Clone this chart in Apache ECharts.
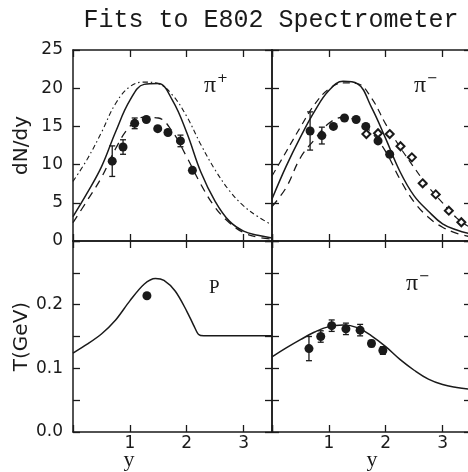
<!DOCTYPE html>
<html><head><meta charset="utf-8">
<script src="https://cdn.jsdelivr.net/npm/echarts@6/dist/echarts.min.js"></script>
<style>html,body{margin:0;padding:0;background:#fff}#c{width:468px;height:472px}</style>
</head><body><div id="c"></div>
<script>
// ---- data ----
const curveX = [0,0.25,0.5,0.75,1.0,1.25,1.5,1.75,2.0,2.25,2.5,2.75,3.0,3.25,3.5];
// top-left (pi+)
const tlSolid   = [3.2,6.3,9.7,14.3,18.4,20.5,20.6,18.4,14.2,9.0,5.2,2.6,1.3,0.75,0.4];
const tlDashed  = [2.4,5.3,8.3,12.1,15.0,16.2,16.1,14.3,11.0,7.4,4.4,2.4,1.1,0.5,0.25];
const tlDashDot = [7.8,10.7,14.2,18.0,20.2,20.8,20.6,19.1,16.3,12.6,9.3,6.6,4.6,3.2,2.1];
const tlPtsX = [0.69,0.88,1.085,1.29,1.49,1.67,1.89,2.1];
const tlPtsY = [10.45,12.3,15.4,15.9,14.7,14.2,13.1,9.25];
const tlPtsErr = [2.0,0.95,0.7,0,0,0,0.76,0];
// top-right (pi-)
const trSolid  = [5.5,9.8,13.6,17.0,19.7,20.9,20.6,17.5,13.4,9.1,5.9,3.9,2.25,1.45,0.9];
const trWide   = [8.5,11.7,14.9,17.9,19.9,20.7,20.6,18.7,15.3,12.3,9.6,7.1,5.0,3.0,1.7];
const trNarrow = [4.5,7.0,10.9,13.3,15.4,16.2,15.7,14.2,11.7,8.1,5.1,3.1,1.8,1.0,0.55];
const trPtsX = [0.67,0.877,1.08,1.275,1.48,1.65,1.865,2.07];
const trPtsY = [14.4,13.8,15.0,16.1,15.9,15.0,13.1,11.35];
const trPtsErr = [2.5,1.1,0,0,0,0,0,0];
const trDiamX = [1.66,1.865,2.07,2.26,2.46,2.65,2.88,3.11,3.33];
const trDiamY = [14.0,14.1,14.0,12.4,10.95,7.55,6.1,3.97,2.45];
// bottom-left (P temperature)
const blX = [0,0.25,0.5,0.75,1.0,1.25,1.45,1.6,1.8,2.0,2.12,2.21,2.3,2.6,3.0,3.5];
const blCurve = [0.124,0.138,0.154,0.176,0.206,0.232,0.241,0.238,0.221,0.19,0.168,0.153,0.151,0.151,0.151,0.151];
const blPtsX = [1.3];
const blPtsY = [0.214];
// bottom-right (pi- temperature)
const brCurve = [0.118,0.132,0.145,0.157,0.1655,0.168,0.164,0.151,0.134,0.114,0.097,0.083,0.0745,0.07,0.067];
const brPtsX = [0.65,0.857,1.05,1.30,1.55,1.75,1.95];
const brPtsY = [0.131,0.150,0.167,0.162,0.160,0.139,0.128];
const brPtsErr = [0.019,0.009,0.009,0.009,0.009,0.005,0.006];
// axes
const xTickLabels = ['1','2','3'];
const dnTickStep = 5, dnMax = 25;
const tTickStep = 0.05, tMax = 0.3;
const tTickLabels = ['0.0','0.1','0.2'];

// ---- chart ----
const INK = '#1a1a1a';
const chart = echarts.init(document.getElementById('c'), null, {renderer:'canvas'});
const L = 73, T = 50, W = 199, H = 191;
const grids = [
  {left:L, top:T, width:W, height:H},
  {left:L+W, top:T, width:W, height:H},
  {left:L, top:T+H, width:W, height:H},
  {left:L+W, top:T+H, width:W, height:H}
].map(g => Object.assign(g, {outerBoundsMode:'none', containLabel:false}));

const lineAx = {show:true, onZero:false, lineStyle:{color:INK, width:1.5}};
const tickAx = {show:true, inside:true, length:7, lineStyle:{color:INK, width:1.3}};
const lblFont = {fontFamily:'DejaVu Sans', fontSize:17, color:INK};
const nameFont = {fontFamily:'DejaVu Sans', fontSize:20, color:INK};

const xAxes = [], yAxes = [];
for (let g = 0; g < 4; g++) {
  for (const pos of ['bottom','top']) {
    xAxes.push({type:'value', gridIndex:g, position:pos, min:0, max:3.5, interval:1,
      axisLine:lineAx, axisTick:tickAx, splitLine:{show:false},
      axisLabel: Object.assign({show: pos==='bottom' && g>=2, margin:3,
        formatter: v => { const i = Math.round(v); return (Math.abs(v-i)<1e-6 && i>=1 && i<=3) ? xTickLabels[i-1] : ''; }}, lblFont)});
  }
  const top = g < 2;
  for (const pos of ['left','right']) {
    const ax = {type:'value', gridIndex:g, position:pos, min:0,
      max: top ? dnMax : tMax, interval: top ? dnTickStep : tTickStep,
      axisLine:lineAx, axisTick:tickAx, splitLine:{show:false},
      axisLabel: Object.assign({show: pos==='left' && (g===0||g===2), margin:10,
        formatter: top ? (v => String(Math.round(v)))
          : (v => { const r = Math.round(v*100); return (r%10===0 && r<30) ? tTickLabels[r/10] : ''; })}, lblFont)};
    if (pos==='left' && g===0) Object.assign(ax, {name:'dN/dy', nameLocation:'middle', nameGap:41, nameRotate:90, nameTextStyle:nameFont});
    if (pos==='left' && g===2) Object.assign(ax, {name:'T(GeV)', nameLocation:'middle', nameGap:41, nameRotate:90, nameTextStyle:nameFont});
    yAxes.push(ax);
  }
}

const zip = (xs, ys) => xs.map((x,i) => [x, ys[i]]);
function curve(g, xs, ys, dash, width, smooth) {
  return {type:'line', xAxisIndex:2*g, yAxisIndex:2*g, data:zip(xs, ys), showSymbol:false,
    smooth: smooth==null?0.4:smooth,
    silent:true, lineStyle:{color:INK, width:width||1.4, type:dash||'solid', opacity:1}, z:2};
}
function pts(g, xs, ys, sym, size) {
  return {type:'scatter', xAxisIndex:2*g, yAxisIndex:2*g, data:zip(xs, ys), symbol:sym||'circle', symbolSize:size||9,
    itemStyle: sym==='emptyDiamond' ? {color:INK, borderColor:INK, borderWidth:1.3, opacity:1} : {color:INK, opacity:1},
    z:5, silent:true};
}
function errs(g, xs, ys, es) {
  const data = xs.map((x,i) => [x, ys[i], es[i]]).filter(d => d[2] > 0);
  return {type:'custom', xAxisIndex:2*g, yAxisIndex:2*g, data, z:4, silent:true,
    encode:{x:0, y:1},
    renderItem: (p, api) => {
      const x = api.value(0), y = api.value(1), e = api.value(2);
      const a = api.coord([x, y+e]), b = api.coord([x, y-e]), c = 3;
      const st = {stroke:INK, lineWidth:1.3};
      return {type:'group', children:[
        {type:'line', shape:{x1:a[0],y1:a[1],x2:b[0],y2:b[1]}, style:st},
        {type:'line', shape:{x1:a[0]-c,y1:a[1],x2:a[0]+c,y2:a[1]}, style:st},
        {type:'line', shape:{x1:b[0]-c,y1:b[1],x2:b[0]+c,y2:b[1]}, style:st}
      ]};
    }};
}

const series = [
  curve(0, curveX, tlSolid, 'solid', 1.5),
  curve(0, curveX, tlDashed, [8,6], 1.3),
  curve(0, curveX, tlDashDot, [5,3,1.5,3], 1.1),
  errs(0, tlPtsX, tlPtsY, tlPtsErr),
  pts(0, tlPtsX, tlPtsY),
  curve(1, curveX, trSolid, 'solid', 1.5),
  curve(1, curveX, trWide, [7,5], 1.2),
  curve(1, curveX, trNarrow, [8,6], 1.3),
  errs(1, trPtsX, trPtsY, trPtsErr),
  pts(1, trPtsX, trPtsY),
  pts(1, trDiamX, trDiamY, 'emptyDiamond', 8),
  curve(2, blX, blCurve, 'solid', 1.5, 0.3),
  pts(2, blPtsX, blPtsY),
  curve(3, curveX, brCurve, 'solid', 1.5),
  errs(3, brPtsX, brPtsY, brPtsErr),
  pts(3, brPtsX, brPtsY)
];

const serif = 'Liberation Serif';
function piLabel(x, y, sup) {
  return {type:'text', x, y, silent:true, style:{text:'{a|π}{b|' + sup + '}', rich:{
    a:{fontFamily:serif, fontSize:24, fill:INK},
    b:{fontFamily:'DejaVu Sans', fontSize:13, fill:INK, padding:[0,0,14,1]}}}};
}
const graphic = [
  {type:'text', x:271, y:8, silent:true, style:{text:'Fits to E802 Spectrometer', fontFamily:'Liberation Mono', fontSize:25, fill:INK, align:'center', verticalAlign:'top'}},
  {type:'text', x:129, y:460, silent:true, style:{text:'y', fontFamily:serif, fontSize:22, fill:INK, align:'center', verticalAlign:'middle'}},
  {type:'text', x:372, y:460, silent:true, style:{text:'y', fontFamily:serif, fontSize:22, fill:INK, align:'center', verticalAlign:'middle'}},
  piLabel(204, 72, '+'),
  piLabel(414, 72, '−'),
  {type:'text', x:209, y:279, silent:true, style:{text:'P', fontFamily:serif, fontSize:19, fill:INK}},
  piLabel(406, 270, '−')
];

chart.setOption({animation:false, backgroundColor:'#fff', grid:grids, xAxis:xAxes, yAxis:yAxes, series, graphic});
</script></body></html>
